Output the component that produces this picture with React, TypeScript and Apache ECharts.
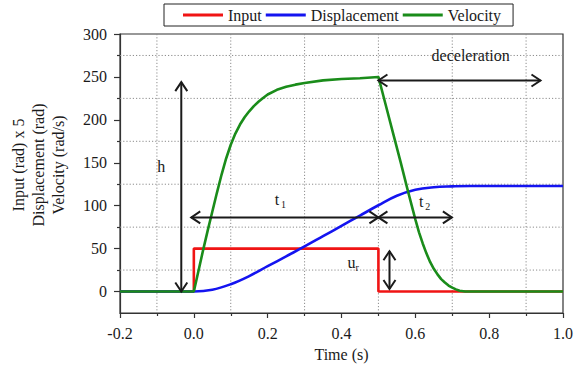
import React, { useEffect, useRef } from 'react';
import * as echarts from 'echarts';

// Axis ticks and grid positions
const timeTicks = [-0.2, 0, 0.2, 0.4, 0.6, 0.8, 1.0];
const timeGrid = [-0.1, 0.1, 0.3, 0.5, 0.7, 0.9];
const valueTicks = [0, 50, 100, 150, 200, 250, 300];
const valueMinorTicks = [25, 75, 125, 175, 225, 275];

// Input (rad) x 5 : step of 50 from t = 0 to t = 0.5 s
const inputData: number[][] = [
  [-0.2, 0], [0, 0], [0, 50], [0.5, 50], [0.5, 0], [1.0, 0],
];

// Displacement (rad)
const displacementData: number[][] = [
  [-0.2, 0], [0, 0], [0.05, 2], [0.1, 8.5], [0.15, 18], [0.2, 29.5], [0.25, 41],
  [0.3, 52.5], [0.35, 64.5], [0.4, 76.5], [0.45, 88.5], [0.5, 100.5],
  [0.55, 111.5], [0.6, 118.5], [0.65, 121.5], [0.7, 122.5], [0.75, 123], [1.0, 123],
];

// Velocity (rad/s)
const velocityData: number[][] = [
  [-0.2, 0], [0, 0], [0.0125, 24], [0.025, 48], [0.0375, 71], [0.05, 93],
  [0.0625, 115], [0.075, 136], [0.0875, 155], [0.1, 171], [0.1125, 184],
  [0.125, 194.5], [0.1375, 203], [0.15, 210], [0.1625, 216], [0.175, 221],
  [0.1875, 225.5], [0.2, 229.5], [0.225, 235], [0.25, 238.5], [0.275, 241],
  [0.3, 243], [0.35, 246], [0.4, 247.5], [0.45, 248.5], [0.5, 250],
  [0.52, 217], [0.54, 184], [0.56, 151], [0.58, 117], [0.6, 84],
  [0.61, 69], [0.62, 56], [0.63, 44.5], [0.64, 34.5], [0.65, 26.5],
  [0.66, 20], [0.67, 14.5], [0.68, 10.5], [0.69, 7], [0.7, 4.5],
  [0.71, 2.5], [0.72, 1], [0.735, 0], [1.0, 0],
];

// Double-headed dimension arrows: [t1, v1, t2, v2]
const arrowData: number[][] = [
  [-0.034, 0, -0.034, 244],   // h
  [-0.007, 86.3, 0.5, 86.3],  // t1
  [0.5, 86.3, 0.699, 86.3],   // t2
  [0.53, 3, 0.53, 47],        // u_r
  [0.5, 245.8, 0.939, 245.8], // deceleration
];

// Annotation labels: position, main text, subscript
const labelPos: number[][] = [
  [-0.088, 145.6], [0.225, 107], [0.616, 105], [0.427, 33.5], [0.75, 275.5],
];
const labelMain = ['h', 't', 't', 'u', 'deceleration'];
const labelSub = ['', '1', '2', 'r', ''];

const seriesNames = ['Input', 'Displacement', 'Velocity'];
const seriesColors = ['#f01414', '#1414f0', '#1a8c1a'];

const FONT = '"Liberation Serif", "Times New Roman", serif';
const INK = '#1a1a1a';

// Dotted grid rows: [t, v, orientation] (0 = vertical at t, 1 = horizontal at v)
const gridData: number[][] = [
  ...timeGrid.map((t) => [t, 0, 0]),
  ...valueMinorTicks.map((v) => [0, v, 1]),
];

export default function App() {
  const ref = useRef<HTMLDivElement>(null);

  useEffect(() => {
    if (!ref.current) return;
    const chart = echarts.init(ref.current, null, { renderer: 'svg' });

    const axisLineStyle = { color: '#333', width: 1.2 };

    const head = (tip: number[], from: number[]) => {
      const dx = from[0] - tip[0];
      const dy = from[1] - tip[1];
      const len = Math.sqrt(dx * dx + dy * dy) || 1;
      const ux = dx / len, uy = dy / len;
      const nx = -uy, ny = ux;
      const L = 9, W = 6;
      return {
        type: 'polyline',
        shape: {
          points: [
            [tip[0] + ux * L + nx * W, tip[1] + uy * L + ny * W],
            [tip[0], tip[1]],
            [tip[0] + ux * L - nx * W, tip[1] + uy * L - ny * W],
          ],
        },
        style: { stroke: INK, lineWidth: 2, fill: null },
      };
    };

    const option: any = {
      animation: false,
      backgroundColor: '#ffffff',
      textStyle: { fontFamily: FONT },
      grid: {
        left: 120, right: 10, top: 34, bottom: 56,
        show: true, borderColor: '#333', borderWidth: 1.2,
      },
      legend: {
        data: seriesNames,
        left: 164, top: 4,
        icon: 'rect', itemWidth: 40, itemHeight: 3, itemGap: 4,
        padding: [3, 12, 3, 19],
        borderColor: '#222', borderWidth: 1,
        textStyle: { fontFamily: FONT, fontSize: 16, color: INK },
      },
      xAxis: {
        type: 'value', min: timeTicks[0], max: timeTicks[timeTicks.length - 1], interval: 0.2,
        axisLine: { show: true, onZero: false, lineStyle: axisLineStyle },
        axisTick: { show: true, length: 5, lineStyle: axisLineStyle },
        minorTick: { show: true, splitNumber: 2, length: 3, lineStyle: axisLineStyle },
        splitLine: { show: false },
        axisLabel: {
          fontFamily: FONT, fontSize: 16, color: INK, margin: 12,
          formatter: (v: number) => v.toFixed(1),
        },
        name: 'Time (s)', nameLocation: 'middle', nameGap: 33,
        nameTextStyle: { fontFamily: FONT, fontSize: 16, color: INK },
      },
      yAxis: [
        {
          type: 'value', min: -25, max: 300, interval: 25,
          axisLine: { show: true, onZero: false, lineStyle: axisLineStyle },
          axisTick: { show: true, length: 6, customValues: valueTicks, lineStyle: axisLineStyle },
          splitLine: { show: false },
          axisLabel: {
            customValues: valueTicks,
            fontFamily: FONT, fontSize: 16, color: INK, margin: 13,
          },
        },
        {
          type: 'value', min: -25, max: 300, interval: 25, position: 'left',
          axisLine: { show: false, onZero: false },
          axisTick: { show: true, length: 3, customValues: valueMinorTicks, lineStyle: axisLineStyle },
          axisLabel: { show: false },
          splitLine: { show: false },
        },
      ],
      graphic: [
        {
          type: 'text',
          x: 38, y: 165,
          rotation: Math.PI / 2,
          style: {
            text: 'Input (rad) x 5\nDisplacement (rad)\nVelocity (rad/s)',
            font: `16px ${FONT}`,
            fill: INK,
            align: 'center',
            verticalAlign: 'middle',
            lineHeight: 20,
          },
        },
      ],
      series: [
        {
          name: 'gridLines', type: 'custom', z: 1, silent: true,
          data: gridData,
          encode: { x: 0, y: 1 },
          renderItem: (params: any, api: any) => {
            const cs = params.coordSys;
            const p = api.coord([api.value(0), api.value(1)]);
            const vertical = api.value(2) === 0;
            const shape = vertical
              ? { x1: p[0], y1: cs.y, x2: p[0], y2: cs.y + cs.height }
              : { x1: cs.x, y1: p[1], x2: cs.x + cs.width, y2: p[1] };
            return {
              type: 'line',
              shape,
              style: { stroke: '#8c8c8c', lineWidth: 1, lineDash: [1.2, 2] },
            };
          },
        },
        ...[inputData, displacementData, velocityData].map((d, i) => ({
          name: seriesNames[i],
          type: 'line',
          data: d,
          showSymbol: false,
          symbol: 'none',
          smooth: i === 1 ? 0.4 : false,
          z: 3 + i,
          itemStyle: { color: seriesColors[i] },
          lineStyle: { color: seriesColors[i], width: 2.6 },
        })),
        {
          name: 'arrows', type: 'custom', z: 10, silent: true,
          data: arrowData,
          encode: { x: [0, 2], y: [1, 3] },
          renderItem: (params: any, api: any) => {
            const p1 = api.coord([api.value(0), api.value(1)]);
            const p2 = api.coord([api.value(2), api.value(3)]);
            return {
              type: 'group',
              children: [
                {
                  type: 'line',
                  shape: { x1: p1[0], y1: p1[1], x2: p2[0], y2: p2[1] },
                  style: { stroke: INK, lineWidth: 2 },
                },
                head(p1, p2),
                head(p2, p1),
              ],
            };
          },
        },
        {
          name: 'labels', type: 'custom', z: 10, silent: true,
          data: labelPos,
          encode: { x: 0, y: 1 },
          renderItem: (params: any, api: any) => {
            const p = api.coord([api.value(0), api.value(1)]);
            const i = params.dataIndex;
            const main = labelMain[i];
            const sub = labelSub[i];
            const w = main.length * 8;
            const children: any[] = [
              {
                type: 'text',
                style: {
                  text: main, x: p[0], y: p[1],
                  font: `16px ${FONT}`, fill: INK,
                  align: 'center', verticalAlign: 'middle',
                },
              },
            ];
            if (sub) {
              children.push({
                type: 'text',
                style: {
                  text: sub, x: p[0] + w / 2, y: p[1] + 5,
                  font: `10px ${FONT}`, fill: INK,
                  align: 'left', verticalAlign: 'middle',
                },
              });
            }
            return { type: 'group', children };
          },
        },
      ],
    };

    chart.setOption(option);
    return () => chart.dispose();
  }, []);

  return (
    <div
      ref={ref}
      style={{ position: 'fixed', left: 0, top: 0, width: 576, height: 369, background: '#fff' }}
    />
  );
}
